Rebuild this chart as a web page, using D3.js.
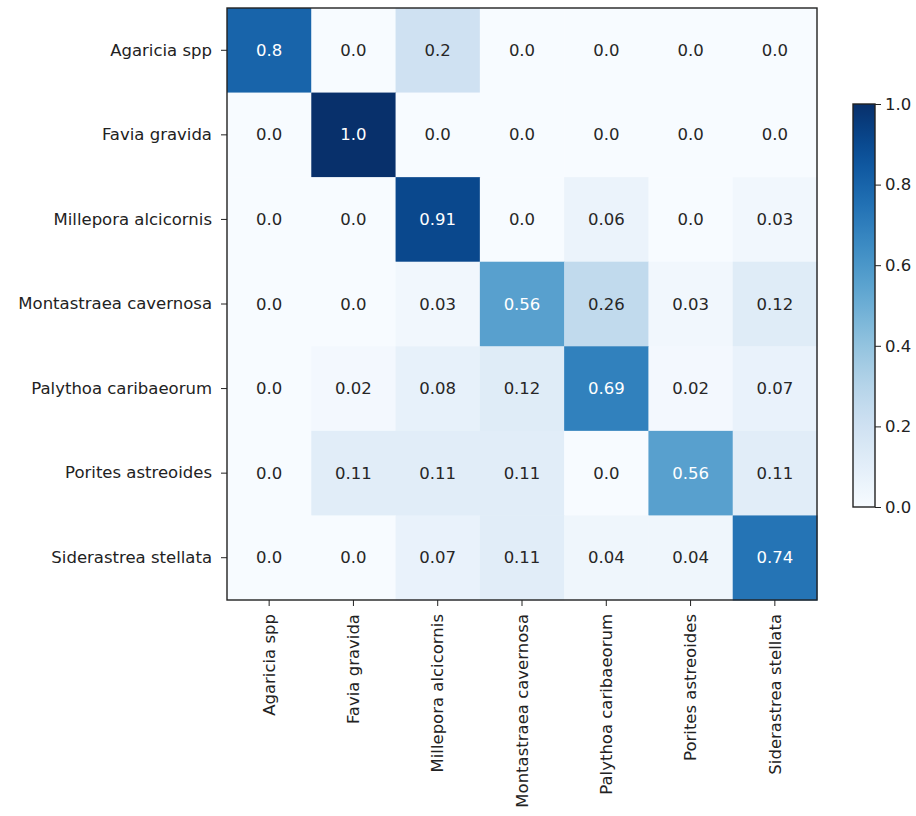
<!DOCTYPE html>
<html>
<head>
<meta charset="utf-8">
<script src="https://cdn.jsdelivr.net/npm/d3@7"></script>
<style>
  body { margin: 0; background: #fff; }
  text { font-family: "DejaVu Sans", sans-serif; }
</style>
</head>
<body>
<svg id="chart" width="916" height="816"></svg>
<script>
// classes (rows = true, columns = predicted)
const classes = ['Agaricia spp', 'Favia gravida', 'Millepora alcicornis', 'Montastraea cavernosa',
    'Palythoa caribaeorum', 'Porites astreoides', 'Siderastrea stellata'];

const matrix = [
    [0.8, 0.0, 0.2, 0.0, 0.0, 0.0, 0.0],
    [0.0, 1.0, 0.0, 0.0, 0.0, 0.0, 0.0],
    [0.0, 0.0, 0.91, 0.0, 0.06, 0.0, 0.03],
    [0.0, 0.0, 0.03, 0.56, 0.26, 0.03, 0.12],
    [0.0, 0.02, 0.08, 0.12, 0.69, 0.02, 0.07],
    [0.0, 0.11, 0.11, 0.11, 0.0, 0.56, 0.11],
    [0.0, 0.0, 0.07, 0.11, 0.04, 0.04, 0.74]
];

const cbarTicks = [0.0, 0.2, 0.4, 0.6, 0.8, 1.0];

const plot = { left: 227, top: 8, width: 590, height: 592 };
const cbar = { left: 853, top: 104, width: 22, height: 403 };
const fontSize = '16.5px';

const svg = d3.select('svg#chart');
const color = d3.scaleSequential(d3.interpolateBlues).domain([0, 1]);

const x = d3.scaleBand().domain(classes).range([0, plot.width]);
const y = d3.scaleBand().domain(classes).range([0, plot.height]);

const g = svg.append('g')
    .attr('transform', `translate(${plot.left}, ${plot.top})`);

const cells = [];
matrix.forEach((row, i) => row.forEach((v, j) => cells.push({ r: classes[i], c: classes[j], v })));

// python-style number label
const fmt = v => {
    const s = String(Math.round(v * 100) / 100);
    return s.includes('.') ? s : s + '.0';
};

g.selectAll('rect.cell')
    .data(cells)
    .enter()
    .append('rect')
    .attr('class', 'cell')
    .attr('x', d => x(d.c))
    .attr('y', d => y(d.r))
    .attr('width', x.bandwidth() + 0.5)
    .attr('height', y.bandwidth() + 0.5)
    .attr('fill', d => color(d.v));

g.selectAll('text.val')
    .data(cells)
    .enter()
    .append('text')
    .attr('class', 'val')
    .attr('x', d => x(d.c) + x.bandwidth() / 2)
    .attr('y', d => y(d.r) + y.bandwidth() / 2)
    .attr('text-anchor', 'middle')
    .attr('dominant-baseline', 'central')
    .style('font-size', fontSize)
    .attr('fill', d => d.v > 0.5 ? '#fff' : '#262626')
    .text(d => fmt(d.v));

// frame
g.append('rect')
    .attr('width', plot.width)
    .attr('height', plot.height)
    .attr('fill', 'none')
    .attr('stroke', '#222')
    .attr('stroke-width', 1.4);

// axes
const yAxis = d3.axisLeft(y).tickSize(6).tickPadding(5);
const xAxis = d3.axisBottom(x).tickSize(6).tickPadding(5);

const ya = g.append('g').call(yAxis);
ya.select('.domain').remove();
ya.selectAll('text').style('font-size', fontSize).attr('fill', '#222').attr('dx', '-4');
ya.selectAll('line').attr('stroke', '#222');

const xa = g.append('g')
    .attr('transform', `translate(0, ${plot.height})`)
    .call(xAxis);
xa.select('.domain').remove();
xa.selectAll('line').attr('stroke', '#222');
xa.selectAll('text')
    .style('font-size', fontSize)
    .attr('fill', '#222')
    .attr('transform', 'rotate(-90)')
    .attr('text-anchor', 'end')
    .attr('x', -14)
    .attr('y', 0)
    .attr('dy', '0.35em');

// colorbar
const defs = svg.append('defs');
const grad = defs.append('linearGradient')
    .attr('id', 'cbar-grad')
    .attr('x1', 0).attr('y1', 1).attr('x2', 0).attr('y2', 0);
d3.range(0, 1.0001, 0.05).forEach(t => {
    grad.append('stop').attr('offset', t).attr('stop-color', color(t));
});

const cb = svg.append('g')
    .attr('transform', `translate(${cbar.left}, ${cbar.top})`);
cb.append('rect')
    .attr('width', cbar.width)
    .attr('height', cbar.height)
    .attr('fill', 'url(#cbar-grad)')
    .attr('stroke', '#222')
    .attr('stroke-width', 1.4);

const cScale = d3.scaleLinear().domain([0, 1]).range([cbar.height, 0]);
const cAxis = d3.axisRight(cScale).tickValues(cbarTicks).tickFormat(d3.format('.1f')).tickSize(6).tickPadding(4);
const ca = cb.append('g')
    .attr('transform', `translate(${cbar.width}, 0)`)
    .call(cAxis);
ca.select('.domain').remove();
ca.selectAll('line').attr('stroke', '#222');
ca.selectAll('text').style('font-size', fontSize).attr('fill', '#222');
</script>
</body>
</html>
